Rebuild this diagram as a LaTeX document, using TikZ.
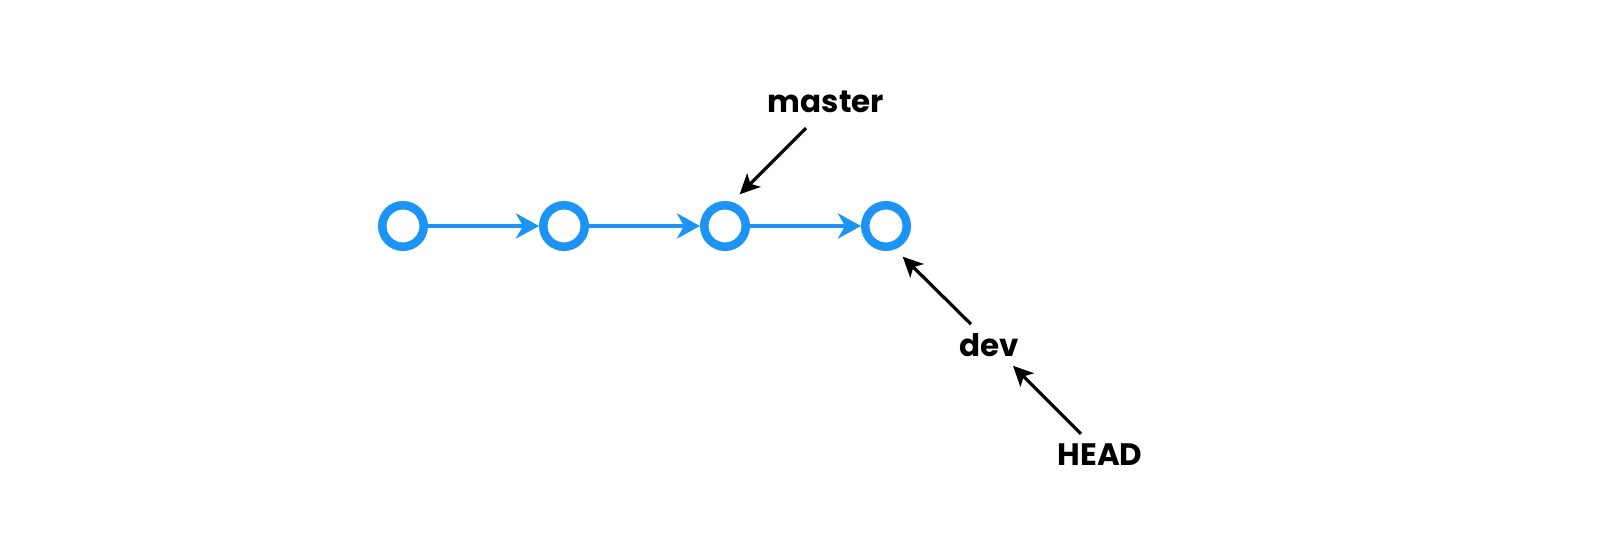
\documentclass[tikz,border=0pt]{standalone}
\usepackage{fontspec}
\setmainfont{Poppins}
\usetikzlibrary{arrows.meta,positioning}
\definecolor{GitBlue}{RGB}{28,148,245}
\tikzset{%
	commit/.style={circle, draw=GitBlue, line width=8.5pt, fill=white,
		minimum size=41.5pt, inner sep=0pt},
	branch/.style={draw=none, text=black, font=\fontsize{31}{37}\selectfont\bfseries,
		inner sep=2pt},
	link/.style={-{Stealth[length=23pt,width=25pt,inset=7pt]}, draw=GitBlue, line width=4pt},
	ptr/.style={-{Stealth[length=20pt,width=19pt,inset=5pt]}, draw=black, line width=3.2pt},
}

\begin{document}
\begin{tikzpicture}[x=1pt,y=1pt,on grid,node distance=161pt]

    \useasboundingbox (0,0) rectangle (1600,554);

    \node [commit] (C1) at (403,328) {};
    \node [commit] (C2) [right=of C1] {};
    \node [commit] (C3) [right=of C2] {};
    \node [commit] (C4) [right=of C3] {};

    \node [branch] (Master) at (826,452) {master};
    \node [branch] (Dev) at (989,209) {dev};
    \node [branch] (Head) at (1100,99) {HEAD};

    \draw [link] (C1) -- (C2);
    \draw [link] (C2) -- (C3);
    \draw [link] (C3) -- (C4);

    \draw [ptr] ([xshift=-20pt,yshift=-13pt]Master.south) -- ([xshift=-3pt,yshift=14pt]C3.north east);
    \draw [ptr] ([xshift=-18pt,yshift=7pt]Dev.north) -- ([xshift=-1pt,yshift=-13pt]C4.south east);
    \draw [ptr] ([xshift=-19pt,yshift=8pt]Head.north) -- ([xshift=24pt,yshift=-7pt]Dev.south);

\end{tikzpicture}
\end{document}
